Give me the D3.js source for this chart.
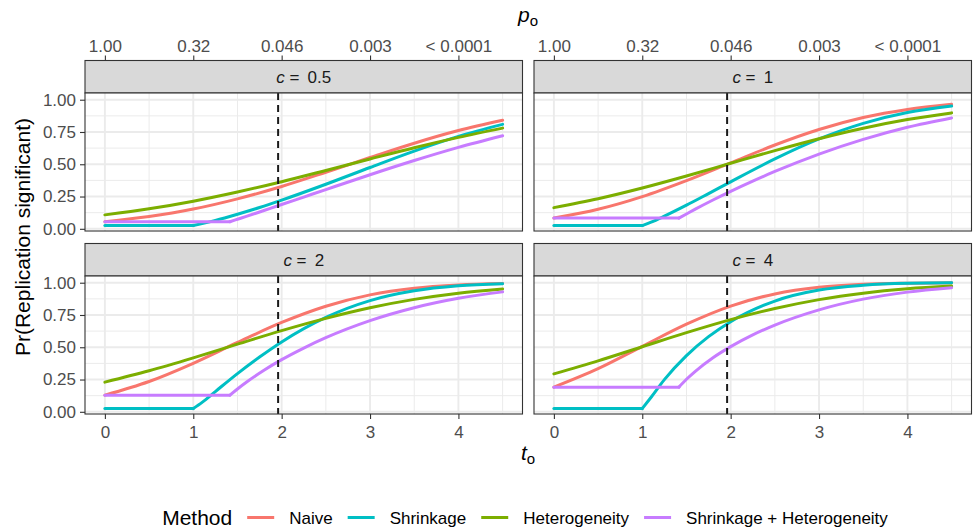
<!DOCTYPE html>
<html>
<head>
<meta charset="utf-8">
<script src="https://cdn.jsdelivr.net/npm/d3@7"></script>
<style>
  html, body { margin: 0; padding: 0; background: #ffffff; }
  svg { display: block; }
  text { font-family: "Liberation Sans", Arial, Helvetica, sans-serif; white-space: pre; }
</style>
</head>
<body>
<svg id="chart" width="974" height="529"></svg>
<script>
// ---- data -------------------------------------------------------------
// original test statistic t_o at which each method is evaluated
const tSmooth    = [0, 0.5, 1, 1.5, 2, 2.5, 3, 3.5, 4, 4.5];
const tShrink    = [0, 1, 1.1, 1.25, 1.5, 1.75, 2, 2.5, 3, 3.5, 4, 4.5];
const tShrinkHet = [0, 1.414, 1.5, 1.6, 1.8, 2, 2.25, 2.5, 3, 3.5, 4, 4.5];

// variance ratio c, one facet each
const cValues = ["0.5", "1", "2", "4"];

const methods = ["Naive", "Shrinkage", "Heterogeneity", "Shrinkage + Heterogeneity"];
const methodColors = ["#F8766D", "#00BFC4", "#7CAE00", "#C77CFF"];

// Pr(replication significant), one row per facet (c = 0.5, 1, 2, 4)
const naive = [
  [0.055, 0.095, 0.153, 0.232, 0.328, 0.438, 0.552, 0.663, 0.761, 0.841],
  [0.083, 0.151, 0.249, 0.373, 0.511, 0.649, 0.769, 0.862, 0.925, 0.964],
  [0.129, 0.235, 0.376, 0.537, 0.692, 0.818, 0.906, 0.958, 0.983, 0.994],
  [0.191, 0.334, 0.507, 0.679, 0.819, 0.913, 0.965, 0.988, 0.996, 0.999]
];
const shrinkage = [
  [0.025, 0.025, 0.040, 0.065, 0.113, 0.165, 0.222, 0.345, 0.475, 0.602, 0.716, 0.809],
  [0.025, 0.025, 0.051, 0.098, 0.183, 0.273, 0.364, 0.541, 0.696, 0.817, 0.901, 0.951],
  [0.025, 0.025, 0.073, 0.157, 0.296, 0.424, 0.541, 0.731, 0.861, 0.937, 0.976, 0.992],
  [0.025, 0.025, 0.113, 0.249, 0.435, 0.582, 0.698, 0.858, 0.943, 0.980, 0.995, 0.999]
];
const heterogeneity = [
  [0.108, 0.155, 0.214, 0.285, 0.365, 0.452, 0.541, 0.628, 0.708, 0.780],
  [0.164, 0.233, 0.316, 0.409, 0.508, 0.606, 0.698, 0.779, 0.846, 0.898],
  [0.230, 0.318, 0.418, 0.524, 0.629, 0.724, 0.806, 0.871, 0.919, 0.952],
  [0.294, 0.395, 0.504, 0.613, 0.714, 0.800, 0.869, 0.919, 0.953, 0.974]
];
const shrinkageHet = [
  [0.055, 0.055, 0.074, 0.096, 0.142, 0.188, 0.246, 0.304, 0.419, 0.529, 0.631, 0.721],
  [0.083, 0.083, 0.115, 0.152, 0.223, 0.290, 0.369, 0.444, 0.579, 0.693, 0.787, 0.859],
  [0.129, 0.129, 0.177, 0.229, 0.322, 0.404, 0.494, 0.574, 0.706, 0.806, 0.879, 0.929],
  [0.191, 0.191, 0.252, 0.314, 0.419, 0.505, 0.596, 0.672, 0.790, 0.873, 0.927, 0.961]
];

// axis ticks
const tTicks = [0, 1, 2, 3, 4];
const pLabels = ["1.00", "0.32", "0.046", "0.003", "< 0.0001"];
const yTicks = [0, 0.25, 0.5, 0.75, 1];
const tCritical = 1.96;

// ---- layout -----------------------------------------------------------
const svg = d3.select("#chart");
const panelW = 437.5, panelH = 138, stripH = 32.5;
const colX = [85, 534];
const stripY = [60.5, 243.5];
const tickFont = 17, titleFont = 21;

const x = d3.scaleLinear().domain([-0.225, 4.725]).range([0, panelW]);
const y = d3.scaleLinear().domain([-0.017, 1.052]).range([panelH, 0]);

const seriesSets = [
  { t: tSmooth,    values: naive,         kink: 0 },
  { t: tShrink,    values: shrinkage,     kink: 1 },
  { t: tSmooth,    values: heterogeneity, kink: 0 },
  { t: tShrinkHet, values: shrinkageHet,  kink: 1 }
];

const lineLinear = d3.line().x(d => x(d[0])).y(d => y(d[1]));
const lineSmooth = d3.line().x(d => x(d[0])).y(d => y(d[1])).curve(d3.curveMonotoneX);

function styleAxis(g) {
  g.select(".domain").remove();
  g.selectAll(".tick line").attr("stroke", "#333333").attr("stroke-width", 1.1);
  g.selectAll(".tick text")
    .attr("fill", "#4D4D4D")
    .attr("font-size", tickFont)
    .attr("font-family", "Liberation Sans, Arial, sans-serif");
}

cValues.forEach((cv, i) => {
  const col = i % 2, row = Math.floor(i / 2);
  const px = colX[col], sy = stripY[row], py = sy + stripH;

  // strip
  svg.append("rect")
    .attr("x", px).attr("y", sy).attr("width", panelW).attr("height", stripH)
    .attr("fill", "#D9D9D9").attr("stroke", "#333333").attr("stroke-width", 1.1);
  const st = svg.append("text")
    .attr("x", px + panelW / 2).attr("y", sy + stripH / 2 + 6)
    .attr("text-anchor", "middle").attr("font-size", tickFont).attr("fill", "#1A1A1A");
  st.append("tspan").attr("font-style", "italic").text("c");
  st.append("tspan").text(" = \u2009" + cv);

  const g = svg.append("g").attr("transform", `translate(${px},${py})`);
  g.append("rect").attr("width", panelW).attr("height", panelH).attr("fill", "#ffffff");

  // grid: minor then major
  const xMinor = [0.5, 1.5, 2.5, 3.5, 4.5];
  const yMinor = [0.125, 0.375, 0.625, 0.875];
  g.selectAll(".xminor").data(xMinor).enter().append("line")
    .attr("x1", d => x(d)).attr("x2", d => x(d)).attr("y1", 0).attr("y2", panelH)
    .attr("stroke", "#EBEBEB").attr("stroke-width", 1);
  g.selectAll(".yminor").data(yMinor).enter().append("line")
    .attr("y1", d => y(d)).attr("y2", d => y(d)).attr("x1", 0).attr("x2", panelW)
    .attr("stroke", "#EBEBEB").attr("stroke-width", 1);
  g.selectAll(".xmajor").data(tTicks).enter().append("line")
    .attr("x1", d => x(d)).attr("x2", d => x(d)).attr("y1", 0).attr("y2", panelH)
    .attr("stroke", "#EBEBEB").attr("stroke-width", 1.9);
  g.selectAll(".ymajor").data(yTicks).enter().append("line")
    .attr("y1", d => y(d)).attr("y2", d => y(d)).attr("x1", 0).attr("x2", panelW)
    .attr("stroke", "#EBEBEB").attr("stroke-width", 1.9);

  // curves: flat part before the shrinkage threshold is straight,
  // the rest is a smooth monotone curve
  seriesSets.forEach((s, m) => {
    const pts = s.t.map((t, k) => [t, s.values[i][k]]);
    const paths = [];
    if (s.kink > 0) paths.push([pts.slice(0, s.kink + 1), lineLinear]);
    paths.push([pts.slice(s.kink), lineSmooth]);
    paths.forEach(([p, gen]) => {
      g.append("path").attr("d", gen(p))
        .attr("fill", "none").attr("stroke", methodColors[m])
        .attr("stroke-width", 3).attr("stroke-linecap", "round").attr("stroke-linejoin", "round");
    });
  });

  // critical value of the original study
  g.append("line")
    .attr("x1", x(tCritical)).attr("x2", x(tCritical)).attr("y1", 0).attr("y2", panelH)
    .attr("stroke", "#1a1a1a").attr("stroke-width", 2).attr("stroke-dasharray", "7,5");

  g.append("rect").attr("width", panelW).attr("height", panelH)
    .attr("fill", "none").attr("stroke", "#333333").attr("stroke-width", 1.1);

  // axes
  if (col === 0) {
    g.append("g").call(d3.axisLeft(y).tickValues(yTicks).tickFormat(d3.format(".2f"))
      .tickSize(5).tickPadding(4)).call(styleAxis);
  }
  if (row === 1) {
    g.append("g").attr("transform", `translate(0,${panelH})`)
      .call(d3.axisBottom(x).tickValues(tTicks).tickFormat(d3.format("d"))
      .tickSize(5).tickPadding(7)).call(styleAxis);
  }
  if (row === 0) {
    svg.append("g").attr("transform", `translate(${px},${sy})`)
      .call(d3.axisTop(x).tickValues(tTicks).tickFormat((d, k) => pLabels[k])
      .tickSize(5).tickPadding(4)).call(styleAxis);
  }
});

// axis titles
const xTitle = svg.append("text").attr("x", 528).attr("y", 460)
  .attr("text-anchor", "middle").attr("font-size", titleFont).attr("fill", "#000");
xTitle.append("tspan").attr("font-style", "italic").text("t");
xTitle.append("tspan").attr("font-size", 15).attr("dy", 4).text("o");

const pTitle = svg.append("text").attr("x", 528).attr("y", 22)
  .attr("text-anchor", "middle").attr("font-size", titleFont).attr("fill", "#000");
pTitle.append("tspan").attr("font-style", "italic").text("p");
pTitle.append("tspan").attr("font-size", 15).attr("dy", 4).text("o");

svg.append("text").attr("transform", "translate(30,237) rotate(-90)")
  .attr("text-anchor", "middle").attr("font-size", titleFont).attr("fill", "#000")
  .text("Pr(Replication significant)");

// legend
const legend = svg.append("g");
const legendMid = 525, legendBase = 523.5;
const title = legend.append("text").attr("y", legendBase + 1.5)
  .attr("font-size", titleFont).attr("fill", "#000").text("Method");
let cursor = title.node().getComputedTextLength() + 15;
methods.forEach((name, m) => {
  legend.append("line")
    .attr("x1", cursor).attr("x2", cursor + 27)
    .attr("y1", legendBase - 6).attr("y2", legendBase - 6)
    .attr("stroke", methodColors[m]).attr("stroke-width", 3);
  cursor += 27 + 15;
  const lab = legend.append("text").attr("x", cursor).attr("y", legendBase)
    .attr("font-size", tickFont).attr("fill", "#000").text(name);
  cursor += lab.node().getComputedTextLength();
  if (m < methods.length - 1) cursor += 15;
});
legend.attr("transform", `translate(${legendMid - cursor / 2},0)`);
</script>
</body>
</html>
